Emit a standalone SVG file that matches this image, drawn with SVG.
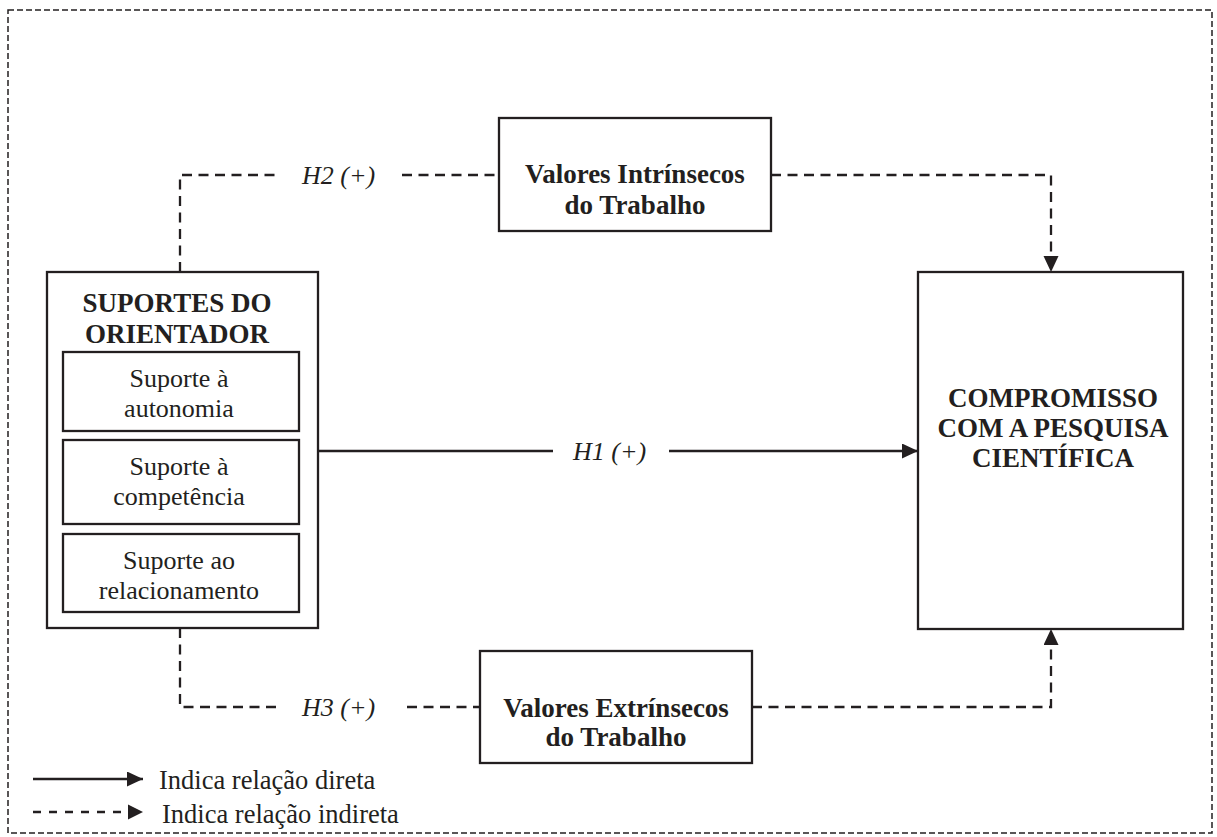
<svg xmlns="http://www.w3.org/2000/svg" width="1217" height="837" viewBox="0 0 1217 837">
<style>
.box{fill:#fff;stroke:#231f20;stroke-width:2.3}
.b{font-family:"Liberation Serif","Times New Roman",serif;font-weight:bold;font-size:27px;fill:#231f20;text-anchor:middle}
.r{font-family:"Liberation Serif","Times New Roman",serif;font-size:26px;fill:#231f20;text-anchor:middle}
.i{font-family:"Liberation Serif","Times New Roman",serif;font-style:italic;font-size:26px;fill:#231f20}
.l{font-family:"Liberation Serif","Times New Roman",serif;font-size:26.5px;fill:#231f20}
.solid{fill:none;stroke:#231f20;stroke-width:2.3}
.dash{fill:none;stroke:#231f20;stroke-width:2.3;stroke-dasharray:10 6.5}
</style>
<defs>
<marker id="ah" markerUnits="userSpaceOnUse" markerWidth="17" markerHeight="16" refX="16" refY="7.5" orient="auto">
<path d="M0,0 L16,7.5 L0,15 z" fill="#231f20"/>
</marker>
</defs>
<rect width="1217" height="837" fill="#fff"/>
<rect x="8" y="10" width="1204" height="823" fill="none" stroke="#231f20" stroke-width="1.5" stroke-dasharray="6 3"/>

<g id="connectors">
<path class="dash" d="M180,272 V175 H280"/>
<path class="dash" d="M402,175 H498"/>
<path class="dash" d="M771,175 H1051 V272" marker-end="url(#ah)"/>
<path class="solid" d="M318,451 H553"/>
<path class="solid" d="M669,451 H918" marker-end="url(#ah)"/>
<path class="dash" d="M180,628 V707 H280"/>
<path class="dash" d="M407,707 H480"/>
<path class="dash" d="M752,707 H1051 V629" marker-end="url(#ah)"/>
<text class="i" x="302" y="184">H2 (+)</text>
<text class="i" x="573" y="460">H1 (+)</text>
<text class="i" x="302" y="716">H3 (+)</text>
</g>

<g id="suportes">
<rect class="box" x="47" y="272" width="271" height="356"/>
<text class="b" x="177" y="312">SUPORTES DO</text>
<text class="b" x="177" y="343">ORIENTADOR</text>
</g>
<g id="autonomia">
<rect class="box" x="63" y="352" width="236" height="79"/>
<text class="r" x="179" y="387">Suporte à</text>
<text class="r" x="179" y="417">autonomia</text>
</g>
<g id="competencia">
<rect class="box" x="63" y="440" width="236" height="84"/>
<text class="r" x="179" y="475">Suporte à</text>
<text class="r" x="179" y="505">competência</text>
</g>
<g id="relacionamento">
<rect class="box" x="63" y="534" width="236" height="78"/>
<text class="r" x="179" y="569">Suporte ao</text>
<text class="r" x="179" y="599">relacionamento</text>
</g>

<g id="intrinsecos">
<rect class="box" x="499" y="118" width="272" height="113"/>
<text class="b" x="635" y="183">Valores Intrínsecos</text>
<text class="b" x="635" y="214">do Trabalho</text>
</g>
<g id="extrinsecos">
<rect class="box" x="480" y="651" width="272" height="112"/>
<text class="b" x="616" y="717">Valores Extrínsecos</text>
<text class="b" x="616" y="746">do Trabalho</text>
</g>
<g id="compromisso">
<rect class="box" x="918" y="272" width="265" height="357"/>
<text class="b" x="1053" y="407">COMPROMISSO</text>
<text class="b" x="1053" y="437">COM A PESQUISA</text>
<text class="b" x="1053" y="467">CIENTÍFICA</text>
</g>

<g id="legend">
<path class="solid" d="M33,779 H143" marker-end="url(#ah)"/>
<path fill="none" stroke="#231f20" stroke-width="2.3" stroke-dasharray="8 8" d="M33,812 H128"/>
<path d="M128,804.5 L143,812 L128,819.5 z" fill="#231f20"/>
<text class="l" x="159" y="789">Indica relação direta</text>
<text class="l" x="162" y="823">Indica relação indireta</text>
</g>
</svg>
